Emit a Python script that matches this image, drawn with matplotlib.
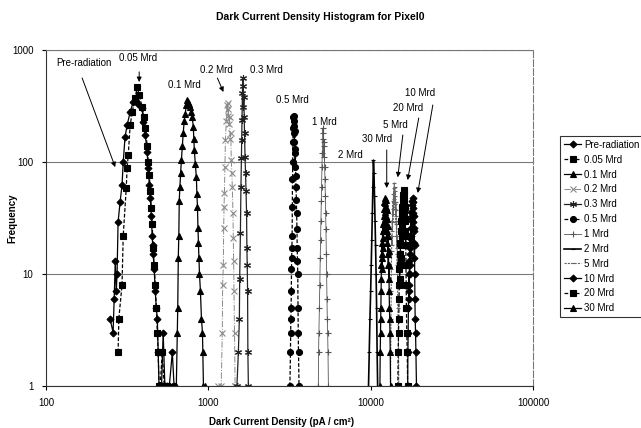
import matplotlib
matplotlib.use("Agg")
import matplotlib.pyplot as plt

plt.rcParams['font.family'] = ['Liberation Sans', 'DejaVu Sans']

# histogram data (x in pA/cm^2, y = counts)
pre_x = [248, 259, 263, 267, 271, 274, 278, 286, 294, 299, 307, 316, 330, 345, 358, 370, 391, 397,
         409, 420, 426, 433, 439, 445, 451, 454, 457, 464, 471, 478, 485, 491, 497, 505, 515, 527,
         540, 558, 575, 600, 615]
pre_y = [4, 3, 6, 13, 7, 10, 29, 44, 62, 100, 168, 213, 280, 345, 350, 330, 303, 228,
         174, 122, 88, 62, 48, 33, 22, 18, 15, 11, 7, 5, 4, 2, 1, 1, 1, 3,
         1, 1, 1, 2, 1]

m005_x = [278, 281, 294, 299, 312, 316, 321, 330, 340, 354, 365, 375, 391, 400, 409, 420, 426,
          433, 439, 445, 451, 457, 464, 471, 478, 485, 491, 497, 505, 520, 535, 550]
m005_y = [2, 4, 8, 22, 58, 88, 115, 213, 280, 375, 468, 395, 310, 250, 200, 140, 100,
          76, 55, 39, 28, 17, 12, 8, 5, 3, 2, 1, 1, 2, 1, 1]

m01_x = [560, 580, 600, 620, 635, 644, 648, 653, 658, 662, 668, 675, 683, 692, 700, 710, 721,
         731, 741, 752, 763, 774, 785, 796, 808, 814, 820, 832, 844, 850, 857, 863, 869, 875,
         882, 894, 907, 920, 925, 933, 950]
m01_y = [1, 1, 1, 1, 1, 3, 5, 14, 22, 45, 60, 80, 105, 140, 180, 230, 270,
         320, 356, 340, 330, 310, 280, 250, 206, 160, 128, 95, 73, 52, 40, 26, 19, 14,
         10, 7, 4, 3, 2, 1, 1]

m02_x = [1150, 1200, 1219, 1225, 1237, 1243, 1250, 1256, 1265, 1274, 1290, 1300, 1313, 1322,
         1330, 1340, 1352, 1362, 1375, 1385, 1396, 1405, 1418, 1425, 1432, 1439, 1450, 1462, 1470]
m02_y = [1, 1, 3, 8, 12, 26, 40, 53, 90, 157, 230, 320, 335, 260,
         300, 220, 250, 160, 180, 104, 80, 60, 35, 21, 13, 7, 3, 1, 1]

m03_x = [1500, 1531, 1553, 1560, 1576, 1588, 1599, 1605, 1612, 1623, 1630, 1637, 1646, 1655,
         1663, 1671, 1683, 1695, 1707, 1720, 1728, 1736, 1745, 1752, 1765]
m03_y = [1, 2, 4, 9, 23, 60, 108, 157, 237, 410, 560, 480, 310, 380,
         250, 181, 110, 80, 55, 35, 17, 12, 7, 2, 1]

m05_x = [3180, 3206, 3215, 3225, 3235, 3245, 3252, 3262, 3272, 3282, 3291, 3299, 3310, 3320,
         3330, 3340, 3350, 3360, 3370, 3382, 3394, 3406, 3418, 3430, 3442, 3456, 3470, 3485,
         3500, 3515, 3528, 3542, 3555, 3568, 3580, 3593, 3620]
m05_y = [1, 2, 3, 4, 5, 7, 11, 14, 17, 22, 40, 70, 100, 150,
         200, 250, 230, 260, 210, 180, 150, 190, 120, 90, 130, 75, 60, 46,
         35, 25, 17, 13, 10, 5, 3, 2, 1]

m1_x = [4760, 4776, 4800, 4830, 4860, 4890, 4914, 4940, 4965, 4985, 5010, 5035, 5057, 5080,
        5105, 5130, 5155, 5180, 5204, 5230, 5255, 5279, 5305, 5330, 5355, 5380, 5405, 5432,
        5460, 5490]
m1_y = [1, 2, 3, 5, 8, 14, 20, 30, 45, 60, 90, 120, 160, 200,
        180, 150, 110, 140, 90, 70, 50, 35, 25, 15, 10, 6, 4, 3,
        2, 1]

m2_x = [9700, 9800, 9900, 10000, 10080, 10160, 10240, 10320, 10400, 10480, 10560, 10640,
        10720, 10800, 10880, 10960, 11040]
m2_y = [1, 2, 4, 7, 12, 20, 35, 60, 104, 80, 50, 30, 18, 10, 5, 2, 1]

m5_x = [13250, 13300, 13340, 13380, 13420, 13460, 13500, 13540, 13580, 13620, 13660, 13700,
        13740, 13780, 13820, 13860, 13900, 13940, 13980, 14020, 14060, 14100, 14140, 14180,
        14220, 14260, 14300, 14340, 14380, 14420, 14460, 14500, 14540, 14580, 14620, 14660,
        14700, 14750, 14800, 14850, 14900]
m5_y = [1, 2, 4, 7, 11, 16, 22, 18, 30, 24, 38, 29,
        45, 34, 52, 40, 58, 44, 65, 47, 60, 42, 55, 38,
        50, 33, 44, 28, 37, 22, 30, 17, 22, 12, 15, 8,
        5, 4, 3, 2, 1]

m10_x = [16900, 16960, 17020, 17080, 17130, 17180, 17230, 17280, 17330, 17380, 17430, 17480,
         17530, 17580, 17630, 17680, 17730, 17780, 17830, 17880, 17930, 17980, 18030, 18080,
         18130, 18180, 18230, 18280, 18330, 18380, 18430, 18480, 18530, 18580, 18630, 18680,
         18730, 18800, 18900, 19000, 19150]
m10_y = [1, 2, 3, 5, 7, 6, 10, 8, 13, 10, 17, 12,
         21, 15, 26, 19, 31, 22, 36, 26, 41, 30, 45, 33,
         48, 35, 44, 29, 39, 24, 33, 19, 26, 14, 18, 10,
         6, 4, 3, 2, 1]

m20_x = [14700, 14780, 14850, 14900, 14950, 15000, 15050, 15100, 15150, 15200, 15250, 15300,
         15350, 15400, 15450, 15500, 15550, 15600, 15650, 15700, 15750, 15800, 15850, 15900,
         15950, 16000, 16050, 16100, 16150, 16200, 16250, 16300, 16350, 16400, 16450, 16500,
         16550, 16600, 16700, 16800, 16900]
m20_y = [1, 2, 3, 4, 6, 8, 11, 9, 15, 12, 19, 14,
         24, 18, 30, 22, 35, 27, 40, 31, 46, 35, 51, 38,
         56, 42, 53, 36, 47, 30, 40, 24, 31, 18, 22, 12,
         8, 5, 3, 2, 1]

m30_x = [11400, 11450, 11500, 11530, 11560, 11590, 11620, 11650, 11680, 11720, 11760, 11800,
         11840, 11880, 11920, 11960, 12000, 12040, 12080, 12120, 12160, 12200, 12240, 12280,
         12320, 12360, 12400, 12440, 12480, 12520, 12560, 12600, 12640, 12680, 12720, 12760,
         12800, 12840, 12880, 12920, 12960, 13000, 13050, 13100, 13150, 13200, 13260]
m30_y = [1, 2, 3, 4, 5, 7, 9, 12, 15, 11, 19, 14,
         24, 17, 28, 21, 33, 25, 38, 29, 44, 31, 48, 36,
         43, 27, 46, 33, 40, 24, 37, 22, 31, 19, 27, 15,
         22, 12, 16, 9, 12, 7, 5, 4, 3, 2, 1]

labels = ['Pre-radiation', '0.05 Mrd', '0.1 Mrd', '0.2 Mrd', '0.3 Mrd', '0.5 Mrd',
          '1 Mrd', '2 Mrd', '5 Mrd', '10 Mrd', '20 Mrd', '30 Mrd']

series = [(pre_x, pre_y), (m005_x, m005_y), (m01_x, m01_y), (m02_x, m02_y),
          (m03_x, m03_y), (m05_x, m05_y), (m1_x, m1_y), (m2_x, m2_y),
          (m5_x, m5_y), (m10_x, m10_y), (m20_x, m20_y), (m30_x, m30_y)]

styles = [
    dict(color='black', ls='-', marker='D', ms=3.5),
    dict(color='black', ls=(0, (3, 1.5)), marker='s', ms=4),
    dict(color='black', ls='-', marker='^', ms=4.5),
    dict(color='#8a8a8a', ls='-.', marker='x', ms=3.8, lw=0.7),
    dict(color='#222222', ls='-', marker=(6, 2, 0), ms=5),
    dict(color='black', ls=(0, (3, 1.5)), marker='o', ms=4.3),
    dict(color='#555555', ls='-', marker='+', ms=4.5, lw=0.6),
    dict(color='black', ls='-', marker='_', ms=3, lw=1.2),
    dict(color='#666666', ls=(0, (2, 1)), marker='_', ms=3.5, lw=0.8),
    dict(color='black', ls='-', marker='D', ms=3.5),
    dict(color='black', ls=(0, (3, 1.5)), marker='s', ms=4),
    dict(color='black', ls='-', marker='^', ms=4.5),
]

fig = plt.figure(figsize=(6.41, 4.28), dpi=100)
ax = fig.add_axes([46 / 641, 1 - 386 / 428, (533 - 46) / 641, (386 - 50) / 428])

for (xs, ys), lab, st in zip(series, labels, styles):
    st = dict(st)
    lw = st.pop('lw', 0.9)
    ax.plot(xs, ys, label=lab, lw=lw, mew=0.8, **st)

ax.set_xscale('log')
ax.set_yscale('log')
ax.set_xlim(100, 100000)
ax.set_ylim(1, 1000)
ax.minorticks_off()
ax.set_xticks([100, 1000, 10000, 100000])
ax.set_xticklabels(['100', '1000', '10000', '100000'])
ax.set_yticks([1, 10, 100, 1000])
ax.set_yticklabels(['1', '10', '100', '1000'])
ax.tick_params(labelsize=7, length=3, width=0.8, direction='out', pad=6)
ax.yaxis.grid(True, color='#7a7a7a', lw=0.8)
ax.set_axisbelow(True)
for s in ['left', 'bottom']:
    ax.spines[s].set_color('#333333')
    ax.spines[s].set_linewidth(0.8)
for s in ['top', 'right']:
    ax.spines[s].set_color('#777777')
    ax.spines[s].set_linewidth(0.8)
    ax.spines[s].set_linestyle((0, (6, 2)))

arrow = dict(arrowstyle='-|>', color='black', lw=0.7, mutation_scale=7, shrinkA=0, shrinkB=0)
tfs = 7
ax.text(172, 765, 'Pre-radiation', fontsize=tfs, ha='center', va='center')
ax.annotate('', xy=(267, 90), xytext=(167, 562), arrowprops=arrow)
ax.text(370, 849, '0.05 Mrd', fontsize=tfs, ha='center', va='center')
ax.annotate('', xy=(375, 518), xytext=(375, 638), arrowprops=arrow)
ax.text(711, 487, '0.1 Mrd', fontsize=tfs, ha='center', va='center')
ax.text(1120, 663, '0.2 Mrd', fontsize=tfs, ha='center', va='center')
ax.annotate('', xy=(1239, 422), xytext=(1137, 562), arrowprops=arrow)
ax.text(2280, 663, '0.3 Mrd', fontsize=tfs, ha='center', va='center')
ax.text(3300, 358, '0.5 Mrd', fontsize=tfs, ha='center', va='center')
ax.text(5200, 228, '1 Mrd', fontsize=tfs, ha='center', va='center')
ax.text(7530, 115, '2 Mrd', fontsize=tfs, ha='center', va='center')
ax.text(10890, 160, '30 Mrd', fontsize=tfs, ha='center', va='center')
ax.annotate('', xy=(12560, 58.6), xytext=(12560, 128), arrowprops=arrow)
ax.text(14260, 214, '5 Mrd', fontsize=tfs, ha='center', va='center')
ax.annotate('', xy=(14690, 73), xytext=(15780, 174), arrowprops=arrow)
ax.text(16900, 303, '20 Mrd', fontsize=tfs, ha='center', va='center')
ax.annotate('', xy=(16900, 69), xytext=(19770, 247), arrowprops=arrow)
ax.text(20050, 413, '10 Mrd', fontsize=tfs, ha='center', va='center')
ax.annotate('', xy=(19500, 52.9), xytext=(24150, 323), arrowprops=arrow)

fig.text(320 / 641, 1 - 17 / 428, 'Dark Current Density Histogram for Pixel0',
         ha='center', va='center', fontsize=7.5, fontweight='bold')
fig.text(282 / 641, 1 - 422 / 428, 'Dark Current Density (pA / cm\u00b2)',
         ha='center', va='center', fontsize=7, fontweight='bold')
fig.text(12 / 641, 1 - 218 / 428, 'Frequency', rotation=90,
         ha='center', va='center', fontsize=7, fontweight='bold')

leg = fig.legend(loc='upper left', bbox_to_anchor=(560 / 641, 1 - 136 / 428),
                 fontsize=7, frameon=True, fancybox=False, edgecolor='black',
                 handlelength=1.8, handletextpad=0.3, labelspacing=0.5,
                 borderpad=0.4, borderaxespad=0)
leg.get_frame().set_linewidth(0.8)

fig.savefig('out.png', dpi=100)
